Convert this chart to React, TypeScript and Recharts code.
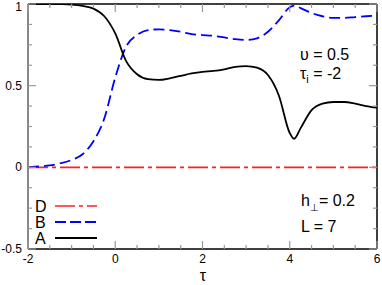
import { Line, LineChart, XAxis, YAxis } from 'recharts';

const tau = [-2, -1.75, -1.5, -1.25, -1, -0.75, -0.5, -0.25, 0, 0.25, 0.5, 0.75, 1, 1.25, 1.5, 1.75, 2, 2.25, 2.5, 2.75, 3, 3.25, 3.5, 3.75, 4, 4.1, 4.25, 4.5, 4.75, 5, 5.25, 5.5, 5.75, 6];
const seriesA = [1, 1, 1, 0.999, 0.996, 0.988, 0.972, 0.925, 0.82, 0.65, 0.57, 0.54, 0.535, 0.545, 0.56, 0.575, 0.585, 0.59, 0.6, 0.615, 0.62, 0.61, 0.565, 0.44, 0.21, 0.175, 0.24, 0.35, 0.39, 0.4, 0.4, 0.39, 0.375, 0.365];
const seriesB = [0, 0.005, 0.012, 0.025, 0.045, 0.08, 0.16, 0.3, 0.55, 0.74, 0.81, 0.84, 0.845, 0.84, 0.83, 0.815, 0.81, 0.805, 0.795, 0.785, 0.78, 0.79, 0.83, 0.9, 0.98, 0.99, 0.975, 0.945, 0.925, 0.915, 0.915, 0.92, 0.925, 0.93];
const seriesD = [0, 0, 0, 0, 0, 0, 0, 0, 0, 0, 0, 0, 0, 0, 0, 0, 0, 0, 0, 0, 0, 0, 0, 0, 0, 0, 0, 0, 0, 0, 0, 0, 0, 0];

const xTicks = [-2, -1.5, -1, -0.5, 0, 0.5, 1, 1.5, 2, 2.5, 3, 3.5, 4, 4.5, 5, 5.5, 6];
const xLabels = [-2, 0, 2, 4, 6];
const yTicks = [-0.5, -0.375, -0.25, -0.125, 0, 0.125, 0.25, 0.375, 0.5, 0.625, 0.75, 0.875, 1];
const yLabels = [-0.5, 0, 0.5, 1];

const data = tau.map((t, i) => ({ tau: t, A: seriesA[i], B: seriesB[i], D: seriesD[i] }));

const FONT = '"Liberation Sans", Arial, sans-serif';
const TICK = '#999';

const BottomTick = (p: any) => {
    const major = xLabels.includes(p.payload.value);
    return (
        <g>
            <line x1={p.x} x2={p.x} y1={p.y} y2={p.y - (major ? 8 : 4)} stroke={TICK} strokeWidth={1.2} />
            {major && (
                <text x={p.x} y={p.y + 14} textAnchor="middle" fontSize={12} fontFamily={FONT} fill="#000">
                    {p.payload.value}
                </text>
            )}
        </g>
    );
};

const TopTick = (p: any) => {
    const major = xLabels.includes(p.payload.value);
    return <line x1={p.x} x2={p.x} y1={p.y} y2={p.y + (major ? 8 : 4)} stroke={TICK} strokeWidth={1.2} />;
};

const LeftTick = (p: any) => {
    const major = yLabels.includes(p.payload.value);
    // keep the top label inside the picture
    const ty = Math.max(p.y + 4, 11);
    return (
        <g>
            <line x1={p.x} x2={p.x + (major ? 8 : 4)} y1={p.y} y2={p.y} stroke={TICK} strokeWidth={1.2} />
            {major && (
                <text x={p.x - 6} y={ty} textAnchor="end" fontSize={12} fontFamily={FONT} fill="#000">
                    {p.payload.value}
                </text>
            )}
        </g>
    );
};

const RightTick = (p: any) => {
    const major = yLabels.includes(p.payload.value);
    return <line x1={p.x} x2={p.x - (major ? 8 : 4)} y1={p.y} y2={p.y} stroke={TICK} strokeWidth={1.2} />;
};

export default function App() {
    return (
        <div style={{ position: 'absolute', left: 0, top: 0, width: 382, height: 285, background: '#fff' }}>
            <LineChart width={382} height={285} data={data} margin={{ top: 0, right: 0, bottom: 0, left: 0 }}>
                <XAxis xAxisId="b" dataKey="tau" type="number" domain={[-2, 6]} ticks={xTicks} orientation="bottom" height={36}
                    tickSize={0} tickMargin={0} tick={BottomTick} axisLine={{ stroke: '#000', strokeWidth: 1.5 }} interval={0} />
                <XAxis xAxisId="t" dataKey="tau" type="number" domain={[-2, 6]} ticks={xTicks} orientation="top" height={4}
                    tickSize={0} tickMargin={0} tick={TopTick} axisLine={{ stroke: '#000', strokeWidth: 1.5 }} interval={0} />
                <YAxis yAxisId="l" type="number" domain={[-0.5, 1]} ticks={yTicks} orientation="left" width={28}
                    tickSize={0} tickMargin={0} tick={LeftTick} axisLine={{ stroke: '#888', strokeWidth: 2 }} interval={0} allowDataOverflow />
                <YAxis yAxisId="r" type="number" domain={[-0.5, 1]} ticks={yTicks} orientation="right" width={5}
                    tickSize={0} tickMargin={0} tick={RightTick} axisLine={{ stroke: '#000', strokeWidth: 1.5 }} interval={0} allowDataOverflow />
                <Line xAxisId="b" yAxisId="l" type="monotone" dataKey="D" stroke="#ff2020" strokeWidth={1.6} strokeDasharray="20 4 4 4" dot={false} isAnimationActive={false} />
                <Line xAxisId="b" yAxisId="l" type="monotone" dataKey="B" stroke="#0000ff" strokeWidth={1.8} strokeDasharray="11 5" dot={false} isAnimationActive={false} />
                <Line xAxisId="b" yAxisId="l" type="monotone" dataKey="A" stroke="#000" strokeWidth={1.8} dot={false} isAnimationActive={false} />
            </LineChart>
            <svg width={382} height={285} style={{ position: 'absolute', left: 0, top: 0, pointerEvents: 'none' }} fontFamily={FONT}>
                <text x={203} y={281} textAnchor="middle" fontSize={16} fill="#000">τ</text>
                <text x={300} y={60} fontSize={16} fill="#000">υ = 0.5</text>
                <text x={300} y={79} fontSize={16} fill="#000">τ<tspan fontSize={11} dy={4}>i</tspan><tspan dy={-4}> = -2</tspan></text>
                <text x={301} y={206} fontSize={16} fill="#000">h<tspan fontSize={10} dy={5}>⊥</tspan><tspan dy={-5}>= 0.2</tspan></text>
                <text x={301} y={232} fontSize={16} fill="#000">L = 7</text>
                <text x={35} y={212} fontSize={16} fill="#000">D</text>
                <text x={35} y={228} fontSize={16} fill="#000">B</text>
                <text x={35} y={244} fontSize={16} fill="#000">A</text>
                <line x1={55} x2={97} y1={206} y2={206} stroke="#ff2020" strokeWidth={1.6} strokeDasharray="20 4 4 4" />
                <line x1={55} x2={97} y1={222} y2={222} stroke="#0000ff" strokeWidth={1.8} strokeDasharray="11 4" />
                <line x1={55} x2={97} y1={238} y2={238} stroke="#000" strokeWidth={1.8} />
            </svg>
        </div>
    );
}
